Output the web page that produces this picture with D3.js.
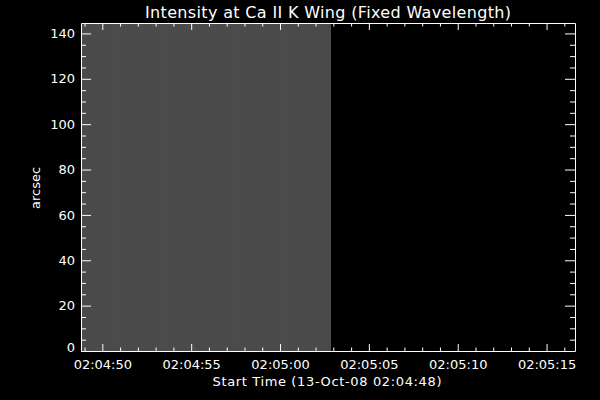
<!DOCTYPE html>
<html>
<head>
<meta charset="utf-8">
<script src="https://cdn.jsdelivr.net/npm/d3@7"></script>
<style>
  html, body { margin: 0; padding: 0; background: #000; }
  svg { display: block; }
  text { font-family: "DejaVu Sans", sans-serif; fill: #fff; }
</style>
</head>
<body>
<svg id="chart" width="600" height="400"></svg>
<script>
// ---- data ----
const titleText = "Intensity at Ca II K Wing (Fixed Wavelength)";
const xTitleText = "Start Time (13-Oct-08 02:04:48)";
const yTitleText = "arcsec";
// seconds after 02:04:00
const xDomain = [48.8, 76.6];
const xTickSeconds = [50, 55, 60, 65, 70, 75];
const xTickLabels = ["02:04:50", "02:04:55", "02:05:00", "02:05:05", "02:05:10", "02:05:15"];
const xMinorSeconds = [49, 51, 52, 53, 54, 56, 57, 58, 59, 61, 62, 63, 64, 66, 67, 68, 69, 71, 72, 73, 74, 76];
const yDomain = [0, 144.6];
const yTicks = [0, 20, 40, 60, 80, 100, 120, 140];
const yTickLabels = ["0", "20", "40", "60", "80", "100", "120", "140"];
const yMinor = [5, 10, 15, 25, 30, 35, 45, 50, 55, 65, 70, 75, 85, 90, 95, 105, 110, 115, 125, 130, 135];
// image of intensity: observed interval and per-column gray level (0-255)
const imageStart = 48.8;
const imageEnd = 62.87;
const columnGray = [75, 74, 75, 75, 75, 74, 74, 75, 76, 75, 74, 75, 75, 75, 75, 74, 75, 75, 76, 75,
                    75, 74, 75, 75, 75, 75, 74, 75, 75, 75, 75, 74, 75, 75, 76, 75, 75, 74, 75, 75,
                    75, 74, 75, 75, 75, 76, 75, 75, 74, 75, 75, 75, 74, 75, 75, 74];

// ---- layout ----
const svg = d3.select("#chart");
const L = 81, R = 575, T = 23, B = 351;
const x = d3.scaleLinear().domain(xDomain).range([L, R]);
const y = d3.scaleLinear().domain(yDomain).range([B, T]);
const xTickLen = 7, yTickLen = 10;

// image columns
const colW = (imageEnd - imageStart) / columnGray.length;
svg.append("g").selectAll("rect").data(columnGray).join("rect")
  .attr("x", (d, i) => Math.round(x(imageStart + i * colW)))
  .attr("width", (d, i) => Math.round(x(imageStart + (i + 1) * colW)) - Math.round(x(imageStart + i * colW)))
  .attr("y", y(yDomain[1]))
  .attr("height", y(yDomain[0]) - y(yDomain[1]))
  .attr("fill", d => d3.rgb(d, d, d))
  .attr("shape-rendering", "crispEdges");

function styleAxis(g) {
  g.selectAll("path, line").attr("stroke", "#fff");
  g.selectAll("text").attr("fill", "#fff").attr("font-size", 13)
    .attr("font-family", "DejaVu Sans, sans-serif");
}

// bottom axis
const gB = svg.append("g").attr("transform", `translate(0,${B})`)
  .call(d3.axisBottom(x).tickValues(xTickSeconds).tickFormat((d, i) => xTickLabels[i])
    .tickSizeInner(-xTickLen).tickSizeOuter(0).tickPadding(9));
styleAxis(gB);
gB.append("g").selectAll("line").data(xMinorSeconds).join("line")
  .attr("x1", d => x(d) + 0.5).attr("x2", d => x(d) + 0.5)
  .attr("y1", 0).attr("y2", -xTickLen / 2).attr("stroke", "#fff");

// top axis
const gT = svg.append("g").attr("transform", `translate(0,${T})`)
  .call(d3.axisTop(x).tickValues(xTickSeconds).tickFormat("")
    .tickSizeInner(-xTickLen).tickSizeOuter(0));
styleAxis(gT);
gT.append("g").selectAll("line").data(xMinorSeconds).join("line")
  .attr("x1", d => x(d) + 0.5).attr("x2", d => x(d) + 0.5)
  .attr("y1", 0).attr("y2", xTickLen / 2).attr("stroke", "#fff");

// left axis
const gL = svg.append("g").attr("transform", `translate(${L},0)`)
  .call(d3.axisLeft(y).tickValues(yTicks).tickFormat((d, i) => yTickLabels[i])
    .tickSizeInner(-yTickLen).tickSizeOuter(0).tickPadding(6));
styleAxis(gL);
gL.selectAll(".tick text").filter(d => d === 0).attr("dy", "0.32em").attr("y", -4);
gL.append("g").selectAll("line").data(yMinor).join("line")
  .attr("y1", d => y(d) + 0.5).attr("y2", d => y(d) + 0.5)
  .attr("x1", 0).attr("x2", yTickLen / 2).attr("stroke", "#fff");

// right axis
const gR = svg.append("g").attr("transform", `translate(${R},0)`)
  .call(d3.axisRight(y).tickValues(yTicks).tickFormat("")
    .tickSizeInner(-yTickLen).tickSizeOuter(0));
styleAxis(gR);
gR.append("g").selectAll("line").data(yMinor).join("line")
  .attr("y1", d => y(d) + 0.5).attr("y2", d => y(d) + 0.5)
  .attr("x1", 0).attr("x2", -yTickLen / 2).attr("stroke", "#fff");

// titles
svg.append("text").attr("x", 328).attr("y", 18).attr("text-anchor", "middle")
  .attr("font-size", 16).attr("textLength", 366).attr("lengthAdjust", "spacing")
  .text(titleText);
svg.append("text").attr("x", 327).attr("y", 386).attr("text-anchor", "middle")
  .attr("font-size", 13).attr("textLength", 229).attr("lengthAdjust", "spacing")
  .text(xTitleText);
svg.append("text").attr("transform", "translate(40,188) rotate(-90)")
  .attr("text-anchor", "middle").attr("font-size", 13)
  .text(yTitleText);
</script>
</body>
</html>
